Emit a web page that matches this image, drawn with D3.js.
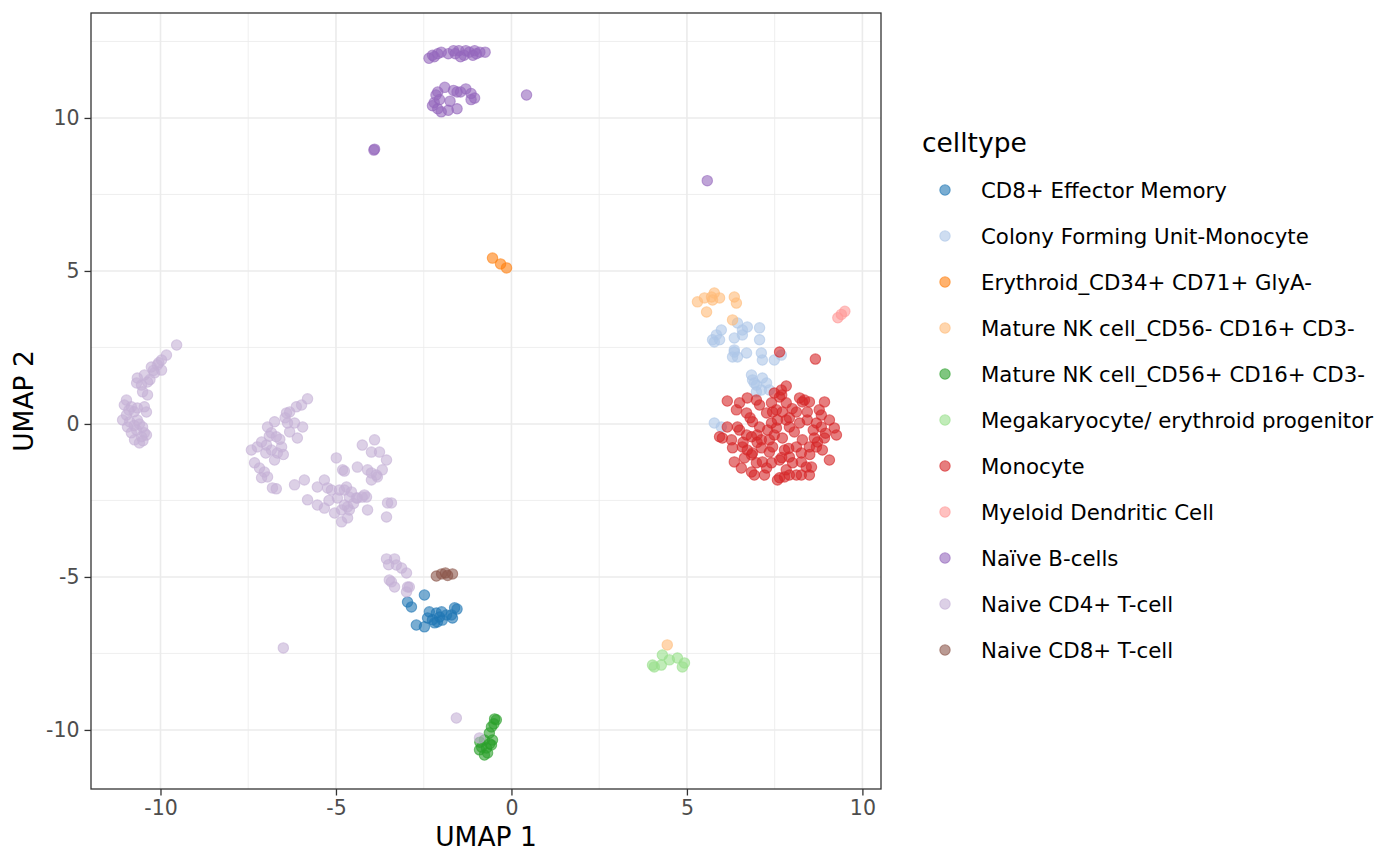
<!DOCTYPE html>
<html>
<head>
<meta charset="utf-8">
<script src="https://cdn.jsdelivr.net/npm/d3@7"></script>
<style>
  body { margin: 0; background: #fff; }
  svg { display: block; font-family: "DejaVu Sans", sans-serif; }
</style>
</head>
<body>
<svg id="chart" width="1400" height="865"></svg>
<script>
// cell types in legend order
const celltypes = [
  "CD8+ Effector Memory",
  "Colony Forming Unit-Monocyte",
  "Erythroid_CD34+ CD71+ GlyA-",
  "Mature NK cell_CD56- CD16+ CD3-",
  "Mature NK cell_CD56+ CD16+ CD3-",
  "Megakaryocyte/ erythroid progenitor",
  "Monocyte",
  "Myeloid Dendritic Cell",
  "Naïve B-cells",
  "Naive CD4+ T-cell",
  "Naive CD8+ T-cell"
];
const colors = ["#1f77b4", "#aec7e8", "#ff7f0e", "#ffbb78", "#2ca02c", "#98df8a",
  "#d62728", "#ff9896", "#9467bd", "#c5b0d5", "#8c564b"];

const xTicks = [-10, -5, 0, 5, 10];
const yTicks = [-10, -5, 0, 5, 10];

// [UMAP 1, UMAP 2] per cell type
const cd8Effector = [[-2.48,-5.59],[-2.96,-5.82],[-2.85,-5.98],[-2.71,-6.57],[-2.48,-6.63],[-2.34,-6.14],
  [-2.39,-6.34],[-2.14,-6.18],[-2.05,-6.31],[-2.11,-6.47],[-1.97,-6.41],[-1.71,-6.24],[-1.62,-6.01],
  [-1.68,-6.34],[-2.19,-6.5],[-1.85,-6.24],[-1.99,-6.14],[-1.55,-6.05],[-2.25,-6.4]];
const cfuMono = [[5.98,3.07],[5.84,2.91],[5.73,2.75],[5.93,2.75],[6.44,3.3],[6.58,3.07],[6.72,3.17],
  [6.58,2.91],[6.35,2.81],[6.35,2.42],[6.3,2.19],[6.44,2.19],[6.7,2.32],[7.07,3.14],[7.07,2.75],
  [7.12,2.32],[7.15,2.09],[7.49,2.09],[7.69,2.25],[6.84,1.6],[6.87,1.44],[7.15,1.5],[7.27,1.34],
  [6.98,1.27],[5.78,2.68],[6.35,2.35],[6.98,1.05],[7.12,1.11],[7.35,1.11],[6.92,1.34],[5.78,0.03],[5.98,-0.1]];
const erythroid = [[-0.54,5.42],[-0.31,5.23],[-0.14,5.1]];
const nkCD56neg = [[5.3,3.99],[5.5,4.12],[5.7,4.15],[5.78,4.28],[5.93,4.12],[5.73,4.05],[5.56,3.66],
  [6.35,4.15],[6.41,3.95],[6.3,3.4],[4.44,-7.22]];
const nkCD56pos = [[-0.43,-9.67],[-0.48,-9.64],[-0.5,-9.8],[-0.57,-9.9],[-0.63,-10.1],[-0.77,-10.33],
  [-0.85,-10.56],[-0.71,-10.59],[-0.57,-10.49],[-0.68,-10.75],[-0.77,-10.82],[-0.91,-10.65],[-0.54,-10.33],
  [-0.9,-10.4],[-0.62,-10.45]];
const megaEry = [[4.07,-7.94],[4.27,-7.88],[4.3,-7.55],[4.5,-7.71],[4.73,-7.65],[4.93,-7.81],[4.87,-7.94],[4.02,-7.88]];
const monocyte = [[7.64,2.35],[8.66,2.12],[7.83,1.24],[7.69,1.11],[7.49,1.01],[7.64,0.88],[6.15,0.75],
  [6.5,0.69],[6.72,0.85],[6.98,0.78],[7.07,0.62],[6.41,0.46],[7.41,0.69],[7.44,0.39],[7.83,0.69],
  [8.21,0.85],[8.35,0.78],[8.92,0.72],[8.12,0.39],[8.43,0.39],[8.77,0.46],[8.83,0.29],[9.06,0.13],
  [7.58,0.13],[7.83,0.13],[7.92,0.2],[6.87,0.07],[7.41,0.03],[8.43,0.13],[8.69,0.03],[6.15,-0.1],
  [6.44,-0.1],[7.07,-0.1],[7.55,-0.13],[8.06,-0.26],[8.83,-0.1],[9.2,-0.13],[5.93,-0.42],[6.01,-0.46],
  [6.27,-0.52],[6.5,-0.2],[6.7,-0.36],[6.84,-0.42],[7.0,-0.36],[7.12,-0.52],[7.35,-0.52],[7.72,-0.46],
  [8.29,-0.52],[8.63,-0.46],[8.72,-0.59],[8.92,-0.46],[9.26,-0.36],[6.3,-0.78],[6.58,-0.75],[6.87,-0.95],
  [7.44,-0.75],[7.78,-0.85],[8.12,-0.75],[8.26,-0.95],[8.49,-0.75],[8.69,-0.75],[8.86,-0.85],[6.35,-1.24],
  [6.64,-1.11],[6.84,-1.01],[6.98,-1.27],[7.15,-1.24],[7.41,-1.27],[7.64,-1.18],[7.92,-1.08],[8.01,-1.27],
  [8.26,-1.24],[8.4,-1.41],[8.55,-1.41],[9.06,-1.18],[6.55,-1.44],[6.84,-1.57],[6.92,-1.67],[7.21,-1.67],
  [7.64,-1.76],[7.78,-1.73],[7.92,-1.67],[8.12,-1.67],[8.26,-1.67],[8.49,-1.67],[7.58,-1.83],[7.83,-1.5],
  [7.27,-1.44],[7.35,-0.92],[7.12,-0.78],[6.72,-0.85],[7.49,-0.36],[7.92,-0.1],[8.21,0.03],[7.55,0.46],
  [7.72,0.39],[7.27,0.36],[6.7,0.36],[8.49,0.72],[8.29,0.72],[7.0,-0.6],[7.7,-1.1],[8.5,-1.0],
  [6.8,0.2],[7.3,-0.2],[8.0,0.5],[8.6,-0.2],[7.9,-0.8],[6.6,-0.6],[7.7,0.95],[8.95,-0.3]];
const myeloidDC = [[9.3,3.47],[9.4,3.58],[9.5,3.68]];
const naiveB = [[-2.35,11.95],[-2.25,12.05],[-2.1,12.1],[-2.0,12.15],[-1.8,12.1],[-1.65,12.2],
  [-1.5,12.2],[-1.3,12.2],[-1.2,12.15],[-1.05,12.2],[-0.9,12.15],[-0.75,12.15],[-1.35,12.05],
  [-1.1,12.05],[-1.6,12.1],[-2.2,12.0],[-1.45,12.0],[-1.0,12.1],
  [-2.1,10.85],[-1.9,11.0],[-1.65,10.9],[-1.55,10.85],[-1.3,10.95],[-1.15,10.8],[-1.05,10.65],
  [-2.2,10.5],[-2.25,10.4],[-2.1,10.3],[-2.0,10.2],[-1.8,10.25],[-1.55,10.3],[-1.75,10.55],
  [-2.05,10.6],[-1.45,10.85],[-1.15,10.6],[-2.15,10.75],
  [0.43,10.75],[-3.9,8.98],[-3.92,8.95],[5.58,7.95]];
const naiveCD4 = [[-9.54,2.58],[-9.83,2.25],[-9.97,2.09],[-10.09,1.93],[-10.26,1.86],[-9.97,1.76],
  [-10.17,1.67],[-10.46,1.6],[-10.66,1.5],[-10.68,1.34],[-10.54,1.27],[-10.37,1.37],[-10.51,1.05],
  [-10.37,0.95],[-10.97,0.78],[-11.03,0.62],[-10.83,0.56],[-10.66,0.52],[-10.46,0.56],[-10.4,0.39],
  [-11.08,0.13],[-10.97,0.29],[-10.94,-0.1],[-10.83,-0.29],[-10.68,-0.2],[-10.54,-0.42],[-10.46,-0.29],
  [-10.6,-0.62],[-10.74,-0.52],[-10.51,-0.1],[-10.4,-0.36],[-10.88,0.07],[-10.66,0.13],
  [-10.2,1.75],[-10.05,2.0],[-10.75,0.4],[-10.6,0.0],[-10.75,-0.05],[-10.5,-0.55],[-10.9,0.45],[-10.3,1.45],
  [-5.81,0.82],[-5.98,0.62],[-6.13,0.56],[-6.32,0.39],[-6.41,0.36],[-6.75,0.07],[-6.95,-0.1],
  [-6.38,0.03],[-6.18,0.03],[-5.95,-0.1],[-6.32,-0.26],[-6.1,-0.46],[-6.84,-0.29],[-6.7,-0.42],
  [-7.12,-0.59],[-7.41,-0.85],[-7.24,-0.75],[-6.98,-0.69],[-6.84,-0.85],[-6.67,-0.95],[-6.55,-0.75],
  [-6.75,-1.18],[-7.32,-1.27],[-7.18,-1.44],[-7.04,-1.57],[-7.12,-1.76],[-6.95,-1.73],[-6.81,-2.09],
  [-6.7,-2.12],[-6.18,-1.99],[-5.9,-1.83],[-4.99,-1.11],[-4.81,-1.5],[-4.39,-1.41],[-4.1,-1.5],
  [-3.9,-0.52],[-4.25,-0.69],[-3.99,-0.92],[-3.76,-0.92],[-3.56,-1.18],[-3.68,-1.5],[-3.82,-1.73],
  [-3.99,-1.83],[-3.99,-1.6],[-5.53,-2.06],[-5.33,-1.83],[-5.81,-2.48],[-5.53,-2.65],[-5.33,-2.75],
  [-5.13,-2.16],[-4.96,-2.42],[-4.76,-2.16],[-4.62,-2.39],[-4.39,-2.42],[-4.13,-2.39],[-5.04,-2.91],
  [-4.84,-2.81],[-4.67,-2.71],[-4.1,-2.81],[-3.42,-2.58],[-3.56,-3.04],[-4.76,-1.54],[-3.85,-1.67],
  [-5.24,-2.09],[-4.9,-2.16],[-4.7,-2.06],[-4.56,-2.22],[-4.42,-2.42],[-4.25,-2.39],[-4.19,-2.32],
  [-4.84,-3.2],[-4.67,-3.07],[-4.62,-2.81],[-4.76,-2.65],[-3.53,-2.58],
  [-6.6,-0.5],[-6.9,-0.4],[-6.5,-1.0],[-7.0,-0.95],[-6.45,0.2],[-5.2,-2.5],[-4.5,-2.6],
  [-3.56,-4.41],[-3.33,-4.41],[-3.28,-4.61],[-3.13,-4.71],[-2.99,-4.87],[-3.42,-5.16],[-3.33,-5.33],
  [-2.96,-5.33],[-3.5,-4.6],[-3.48,-5.1],[-2.99,-5.49],[-2.91,-5.33],
  [-6.5,-7.32],[-1.57,-9.61],[-0.91,-10.26]];
const naiveCD8 = [[-2.14,-4.97],[-1.99,-4.9],[-1.88,-4.87],[-1.68,-4.9],[-1.82,-4.95]];

const groups = [cd8Effector, cfuMono, erythroid, nkCD56neg, nkCD56pos, megaEry,
  monocyte, myeloidDC, naiveB, naiveCD4, naiveCD8];

const points = [];
groups.forEach((g, i) => g.forEach(d => points.push({ x: d[0], y: d[1], type: celltypes[i] })));

const svg = d3.select("#chart");
const panel = { left: 91, right: 881, top: 13, bottom: 789 };

const x = d3.scaleLinear().domain([-11.98, 10.53]).range([panel.left, panel.right]);
const y = d3.scaleLinear().domain([-11.93, 13.43]).range([panel.bottom, panel.top]);
const color = d3.scaleOrdinal().domain(celltypes).range(colors);

const gridColor = "#ebebeb";
const xMinor = [-7.5, -2.5, 2.5, 7.5];
const yMinor = [-7.5, -2.5, 2.5, 7.5, 12.5];

const grid = svg.append("g");
grid.selectAll("line.xminor").data(xMinor).enter().append("line")
  .attr("x1", d => x(d)).attr("x2", d => x(d))
  .attr("y1", panel.top).attr("y2", panel.bottom)
  .attr("stroke", gridColor).attr("stroke-width", 0.8);
grid.selectAll("line.yminor").data(yMinor).enter().append("line")
  .attr("y1", d => y(d)).attr("y2", d => y(d))
  .attr("x1", panel.left).attr("x2", panel.right)
  .attr("stroke", gridColor).attr("stroke-width", 0.8);
grid.selectAll("line.xmajor").data(xTicks).enter().append("line")
  .attr("x1", d => x(d)).attr("x2", d => x(d))
  .attr("y1", panel.top).attr("y2", panel.bottom)
  .attr("stroke", gridColor).attr("stroke-width", 1.6);
grid.selectAll("line.ymajor").data(yTicks).enter().append("line")
  .attr("y1", d => y(d)).attr("y2", d => y(d))
  .attr("x1", panel.left).attr("x2", panel.right)
  .attr("stroke", gridColor).attr("stroke-width", 1.6);

svg.append("g").selectAll("circle").data(points).enter().append("circle")
  .attr("cx", d => x(d.x))
  .attr("cy", d => y(d.y))
  .attr("r", 5.2)
  .attr("fill", d => color(d.type))
  .attr("fill-opacity", 0.6)
  .attr("stroke", d => color(d.type))
  .attr("stroke-opacity", 0.6)
  .attr("stroke-width", 1.1);

// panel border
svg.append("rect")
  .attr("x", panel.left).attr("y", panel.top)
  .attr("width", panel.right - panel.left).attr("height", panel.bottom - panel.top)
  .attr("fill", "none").attr("stroke", "#333333").attr("stroke-width", 1.3);

// axes
const xAxis = d3.axisBottom(x).tickValues(xTicks).tickSize(6.5).tickPadding(5).tickFormat(d3.format("d"));
const yAxis = d3.axisLeft(y).tickValues(yTicks).tickSize(6.5).tickPadding(5).tickFormat(d3.format("d"));

const gx = svg.append("g").attr("transform", `translate(0,${panel.bottom})`).call(xAxis);
const gy = svg.append("g").attr("transform", `translate(${panel.left},0)`).call(yAxis);
[gx, gy].forEach(g => {
  g.select(".domain").remove();
  g.selectAll(".tick line").attr("stroke", "#333333").attr("stroke-width", 1.3);
  g.selectAll(".tick text").attr("fill", "#4d4d4d")
    .style("font-family", "DejaVu Sans").style("font-size", "20.5px");
});
gx.selectAll(".tick text").text(d => d < 0 ? "-" + Math.abs(d) : d);
gy.selectAll(".tick text").text(d => d < 0 ? "-" + Math.abs(d) : d);

svg.append("text")
  .attr("x", (panel.left + panel.right) / 2).attr("y", 846)
  .attr("text-anchor", "middle").style("font-size", "26.5px").attr("fill", "#000")
  .text("UMAP 1");
svg.append("text")
  .attr("transform", `translate(33,${(panel.top + panel.bottom) / 2}) rotate(-90)`)
  .attr("text-anchor", "middle").style("font-size", "26.5px").attr("fill", "#000")
  .text("UMAP 2");

// legend
const legend = svg.append("g");
legend.append("text").attr("x", 922).attr("y", 152)
  .style("font-size", "26.5px").attr("fill", "#000").text("celltype");
const items = legend.selectAll("g.item").data(celltypes).enter().append("g")
  .attr("transform", (d, i) => `translate(0,${190 + i * 46})`);
items.append("circle").attr("cx", 945).attr("cy", 0).attr("r", 5.2)
  .attr("fill", d => color(d)).attr("fill-opacity", 0.6)
  .attr("stroke", d => color(d)).attr("stroke-opacity", 0.6).attr("stroke-width", 1.1);
items.append("text").attr("x", 981).attr("y", 0).attr("dy", "0.36em")
  .style("font-size", "21.3px").attr("fill", "#000").text(d => d);
</script>
</body>
</html>
